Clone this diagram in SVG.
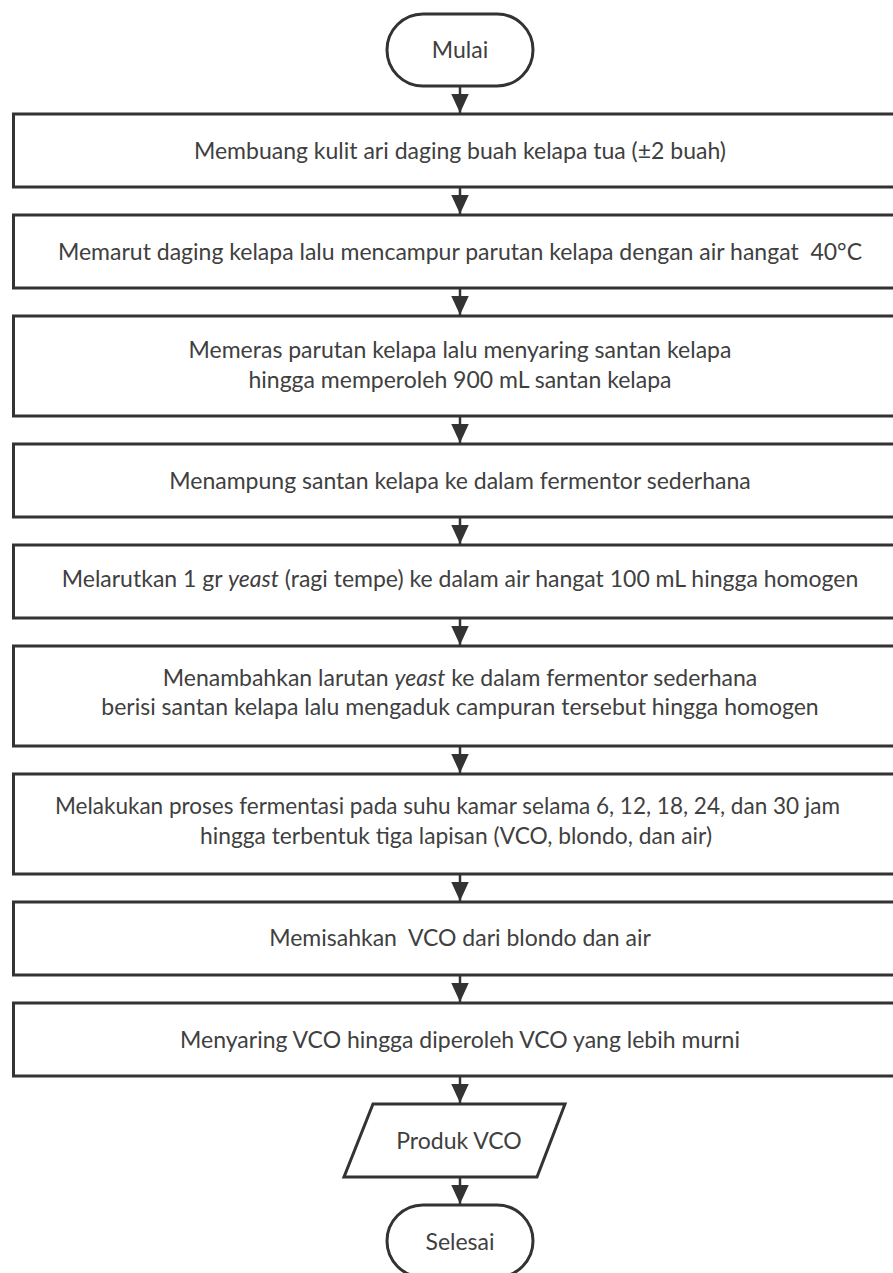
<svg xmlns="http://www.w3.org/2000/svg" width="893" height="1273" viewBox="0 0 893 1273">
<style>
.box{fill:#fff;stroke:#333;stroke-width:3}
.t{font-family:Lato,"Liberation Sans",sans-serif;font-size:23px;fill:#404040;text-anchor:middle;white-space:pre}
.ln{stroke:#333;stroke-width:2.5;fill:none}
</style>
<defs>
<marker id="ah" markerWidth="8" markerHeight="7" refX="7.6" refY="3.5" orient="auto" markerUnits="strokeWidth">
<path d="M0,0 L7.6,3.5 L0,7 Z" fill="#333"/>
</marker>
</defs>
<rect width="893" height="1273" fill="#fff"/>
<g id="connectors">
<line class="ln" x1="460" y1="86" x2="460" y2="113" marker-end="url(#ah)"/>
<line class="ln" x1="460" y1="187" x2="460" y2="214" marker-end="url(#ah)"/>
<line class="ln" x1="460" y1="288" x2="460" y2="315" marker-end="url(#ah)"/>
<line class="ln" x1="460" y1="416" x2="460" y2="443" marker-end="url(#ah)"/>
<line class="ln" x1="460" y1="517" x2="460" y2="544" marker-end="url(#ah)"/>
<line class="ln" x1="460" y1="618" x2="460" y2="645" marker-end="url(#ah)"/>
<line class="ln" x1="460" y1="746" x2="460" y2="773" marker-end="url(#ah)"/>
<line class="ln" x1="460" y1="874" x2="460" y2="901" marker-end="url(#ah)"/>
<line class="ln" x1="460" y1="975" x2="460" y2="1002" marker-end="url(#ah)"/>
<line class="ln" x1="460" y1="1076" x2="460" y2="1103" marker-end="url(#ah)"/>
<line class="ln" x1="460" y1="1177" x2="460" y2="1204" marker-end="url(#ah)"/>
</g>
<g id="start">
<rect class="box" x="387" y="14" width="146" height="72" rx="36"/>
<text class="t" x="460" y="58">Mulai</text>
</g>
<g id="step1">
<rect class="box" x="13.5" y="114" width="900" height="73"/>
<text class="t" x="460" y="159">Membuang kulit ari daging buah kelapa tua (±2 buah)</text>
</g>
<g id="step2">
<rect class="box" x="13.5" y="215" width="900" height="73"/>
<text class="t" x="460" y="260">Memarut daging kelapa lalu mencampur parutan kelapa dengan air hangat  40°C</text>
</g>
<g id="step3">
<rect class="box" x="13.5" y="316" width="900" height="100"/>
<text class="t" x="460" y="358">Memeras parutan kelapa lalu menyaring santan kelapa</text>
<text class="t" x="460" y="388">hingga memperoleh 900 mL santan kelapa</text>
</g>
<g id="step4">
<rect class="box" x="13.5" y="444" width="900" height="73"/>
<text class="t" x="460" y="489">Menampung santan kelapa ke dalam fermentor sederhana</text>
</g>
<g id="step5">
<rect class="box" x="13.5" y="545" width="900" height="73"/>
<text class="t" x="460" y="587">Melarutkan 1 gr <tspan font-style="italic">yeast</tspan> (ragi tempe) ke dalam air hangat 100 mL hingga homogen</text>
</g>
<g id="step6">
<rect class="box" x="13.5" y="646" width="900" height="100"/>
<text class="t" x="460" y="686">Menambahkan larutan <tspan font-style="italic">yeast</tspan> ke dalam fermentor sederhana</text>
<text class="t" x="460" y="715">berisi santan kelapa lalu mengaduk campuran tersebut hingga homogen</text>
</g>
<g id="step7">
<rect class="box" x="13.5" y="774" width="900" height="100"/>
<text class="t" x="447.5" y="814" textLength="785" lengthAdjust="spacingAndGlyphs">Melakukan proses fermentasi pada suhu kamar selama 6, 12, 18, 24, dan 30 jam</text>
<text class="t" x="456" y="844" textLength="512" lengthAdjust="spacingAndGlyphs">hingga terbentuk tiga lapisan (VCO, blondo, dan air)</text>
</g>
<g id="step8">
<rect class="box" x="13.5" y="902" width="900" height="73"/>
<text class="t" x="460" y="946">Memisahkan  VCO dari blondo dan air</text>
</g>
<g id="step9">
<rect class="box" x="13.5" y="1003" width="900" height="73"/>
<text class="t" x="460" y="1048">Menyaring VCO hingga diperoleh VCO yang lebih murni</text>
</g>
<g id="output">
<polygon class="box" points="373,1104 565,1104 537,1177 344,1177"/>
<text class="t" x="459" y="1149">Produk VCO</text>
</g>
<g id="end">
<rect class="box" x="387" y="1205" width="146" height="72" rx="36"/>
<text class="t" x="460" y="1250">Selesai</text>
</g>
</svg>
